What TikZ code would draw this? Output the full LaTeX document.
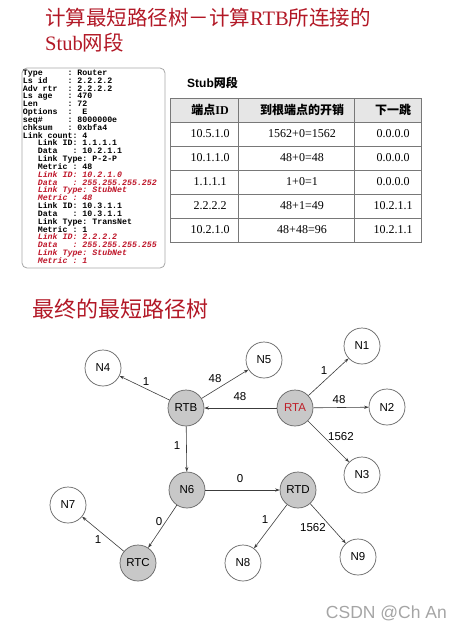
\documentclass[tikz,border=0pt]{standalone}
\usepackage{fontspec}
\setmainfont{Liberation Serif}
\setsansfont{Liberation Sans}
\newfontfamily\cjk{Noto Sans CJK SC}
\newfontfamily\monof{Liberation Mono}
\usetikzlibrary{arrows.meta}
\definecolor{titlered}{RGB}{178,24,38}
\definecolor{boxred}{RGB}{190,22,42}
\definecolor{rtared}{RGB}{190,30,40}
\definecolor{nodeedge}{RGB}{100,100,100}
\definecolor{routerfill}{RGB}{200,200,200}
\definecolor{headfill}{RGB}{230,230,230}
\definecolor{tabline}{RGB}{120,120,120}
\definecolor{edgecol}{RGB}{60,60,60}
\definecolor{wmgray}{RGB}{165,165,165}
\frenchspacing
\begin{document}
\begin{tikzpicture}[x=1pt,y=-1pt,
  boxline/.style={anchor=base west, inner sep=0, font=\monof\bfseries\fontsize{8.27}{8}\selectfont},
  redline/.style={boxline, text=boxred, font=\monof\bfseries\itshape\fontsize{8.27}{8}\selectfont},
  cell/.style={inner sep=0, font=\fontsize{12}{12}\selectfont},
  headcell/.style={inner sep=0, font=\bfseries\fontsize{12}{12}\selectfont},
  netnode/.style={circle, draw=nodeedge, line width=0.7pt, fill=white, minimum size=36pt, inner sep=0, font=\sffamily\fontsize{11.5}{12}\selectfont},
  router/.style={netnode, fill=routerfill},
  arr/.style={draw=edgecol, line width=0.6pt, -{Stealth[length=4.5pt,width=3.2pt]}},
  lbl/.style={inner sep=0, font=\sffamily\fontsize{11.5}{12}\selectfont}
]
\useasboundingbox (0,0) rectangle (463,630);

% titles
\node[anchor=base west, inner sep=0, text=titlered, font=\fontsize{20.5}{24}\selectfont] (title1) at (45,25) {{\cjk 计算最短路径树－计算}RTB{\cjk 所连接的}};
\node[anchor=base west, inner sep=0, text=titlered, font=\fontsize{20.5}{24}\selectfont] (title2) at (45,50) {Stub{\cjk 网段}};

% LSA box
\draw[draw=gray!70, line width=0.8pt, rounded corners=5pt] (22,68) rectangle (165,268);
\node[boxline] (l1) at (22.7,75.5) {Type~~~~~:~Router};
\node[boxline] (l2) at (22.7,83.33) {Ls~id~~~~:~2.2.2.2};
\node[boxline] (l3) at (22.7,91.16) {Adv~rtr~~:~2.2.2.2};
\node[boxline] (l4) at (22.7,98.99) {Ls~age~~~:~470};
\node[boxline] (l5) at (22.7,106.82) {Len~~~~~~:~72};
\node[boxline] (l6) at (22.7,114.65) {Options~~:~~E};
\node[boxline] (l7) at (22.7,122.48) {seq\#~~~~~:~8000000e};
\node[boxline] (l8) at (22.7,130.31) {chksum~~~:~0xbfa4};
\node[boxline] (l9) at (22.7,138.14) {Link~count:~4};
\node[boxline] (l10) at (22.7,145.97) {~~~Link~ID:~1.1.1.1};
\node[boxline] (l11) at (22.7,153.80) {~~~Data~~~:~10.2.1.1};
\node[boxline] (l12) at (22.7,161.63) {~~~Link~Type:~P-2-P};
\node[boxline] (l13) at (22.7,169.46) {~~~Metric~:~48};
\node[redline] (l14) at (22.7,177.29) {~~~Link~ID:~10.2.1.0};
\node[redline] (l15) at (22.7,185.12) {~~~Data~~~:~255.255.255.252};
\node[redline] (l16) at (22.7,192.95) {~~~Link~Type:~StubNet};
\node[redline] (l17) at (22.7,200.78) {~~~Metric~:~48};
\node[boxline] (l18) at (22.7,208.61) {~~~Link~ID:~10.3.1.1};
\node[boxline] (l19) at (22.7,216.44) {~~~Data~~~:~10.3.1.1};
\node[boxline] (l20) at (22.7,224.27) {~~~Link~Type:~TransNet};
\node[boxline] (l21) at (22.7,232.10) {~~~Metric~:~1};
\node[redline] (l22) at (22.7,239.93) {~~~Link~ID:~2.2.2.2};
\node[redline] (l23) at (22.7,247.76) {~~~Data~~~:~255.255.255.255};
\node[redline] (l24) at (22.7,255.59) {~~~Link~Type:~StubNet};
\node[redline] (l25) at (22.7,263.42) {~~~Metric~:~1};

% Stub table
\node[anchor=base west, inner sep=0, font=\fontsize{12}{12}\selectfont] (stublbl) at (187,87) {{\sffamily\bfseries Stub}{\cjk\bfseries 网段}};
\fill[headfill] (170,98) rectangle (421,122);
\draw[tabline, line width=1pt] (170,98) rectangle (421,242);
\foreach \yy in {122,146,170,194,218} \draw[tabline, line width=1pt] (170,\yy) -- (421,\yy);
\foreach \xx in {238,354} \draw[tabline, line width=1pt] (\xx,98) -- (\xx,242);
\node[headcell] (h1) at (210,110) {{\cjk\bfseries 端点}ID};
\node[headcell] (h2) at (302,110) {\cjk\bfseries 到根端点的开销};
\node[headcell] (h3) at (393,110) {\cjk\bfseries 下一跳};
\node[cell] (c11) at (210,134) {10.5.1.0};
\node[cell] (c12) at (302,134) {1562+0=1562};
\node[cell] (c13) at (393,134) {0.0.0.0};
\node[cell] (c21) at (210,158) {10.1.1.0};
\node[cell] (c22) at (302,158) {48+0=48};
\node[cell] (c23) at (393,158) {0.0.0.0};
\node[cell] (c31) at (210,182) {1.1.1.1};
\node[cell] (c32) at (302,182) {1+0=1};
\node[cell] (c33) at (393,182) {0.0.0.0};
\node[cell] (c41) at (210,206) {2.2.2.2};
\node[cell] (c42) at (302,206) {48+1=49};
\node[cell] (c43) at (393,206) {10.2.1.1};
\node[cell] (c51) at (210,230) {10.2.1.0};
\node[cell] (c52) at (302,230) {48+48=96};
\node[cell] (c53) at (393,230) {10.2.1.1};

% section title
\node[anchor=base west, inner sep=0, text=titlered, font=\cjk\fontsize{22}{24}\selectfont] (title3) at (32,317) {最终的最短路径树};

% graph
\node[netnode] (n4) at (103,368) {N4};
\node[netnode] (n5) at (264,360) {N5};
\node[netnode] (n1) at (362,346) {N1};
\node[router] (rtb) at (186,408) {RTB};
\node[router, text=rtared] (rta) at (295,408) {RTA};
\node[netnode] (n2) at (387,407) {N2};
\node[netnode] (n3) at (362,475) {N3};
\node[router] (n6) at (187,490) {N6};
\node[router] (rtd) at (298,490) {RTD};
\node[netnode] (n7) at (68,505) {N7};
\node[router] (rtc) at (138,563) {RTC};
\node[netnode] (n8) at (243,563) {N8};
\node[netnode] (n9) at (358,557) {N9};

\draw[arr] (rta) -- (rtb);
\draw[arr] (rta) -- (n1);
\draw[arr] (rta) -- (n2);
\draw[arr] (rta) -- (n3);
\draw[arr] (rtb) -- (n4);
\draw[arr] (rtb) -- (n5);
\draw[arr] (rtb) -- (n6);
\draw[arr] (n6) -- (rtd);
\draw[arr] (n6) -- (rtc);
\draw[arr] (rtc) -- (n7);
\draw[arr] (rtd) -- (n8);
\draw[arr] (rtd) -- (n9);

\node[lbl] (w1) at (146,382) {1};
\node[lbl] (w2) at (215,379) {48};
\node[lbl] (w3) at (240,397) {48};
\node[lbl] (w4) at (324,371) {1};
\node[lbl] (w5) at (339,400) {48};
\node[lbl] (w6) at (341,437) {1562};
\node[lbl] (w7) at (177,446) {1};
\node[lbl] (w8) at (240,479) {0};
\node[lbl] (w9) at (159,522) {0};
\node[lbl] (w10) at (98,540) {1};
\node[lbl] (w11) at (265,520) {1};
\node[lbl] (w12) at (313,528) {1562};

\node[anchor=east, inner sep=0, text=wmgray, font=\sffamily\fontsize{17.5}{18}\selectfont] (wm) at (447,613) {CSDN @Ch An};
\end{tikzpicture}
\end{document}
